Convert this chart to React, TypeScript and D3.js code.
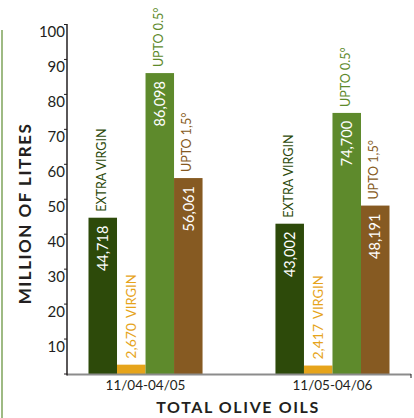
import React from "react";
import * as d3 from "d3";

const periods = ["11/04-04/05", "11/05-04/06"];
const seriesNames = ["EXTRA VIRGIN", "VIRGIN", "UPTO 0.5°", "UPTO 1,5°"];
const extraVirgin = [44.718, 43.002];
const virgin = [2.67, 2.417];
const upto05 = [86.098, 74.7];
const upto15 = [56.061, 48.191];
const yTicks = [0, 10, 20, 30, 40, 50, 60, 70, 80, 90, 100];

const barColors = ["#2d4a0a", "#e6a41b", "#5e8a2c", "#865a22"];
const labelColors = ["#2d4a0a", "#e6a41b", "#5e8a2c", "#865a22"];

const W = 414;
const H = 418;
const FONT = "Lato, 'Open Sans', sans-serif";

const locale = d3.formatLocale({ decimal: ",", thousands: ".", grouping: [3], currency: ["", ""] });
const fmt = locale.format(".3f");

export default function App() {
  const seriesValues = [extraVirgin, virgin, upto05, upto15];
  const x0 = d3
    .scaleBand<string>()
    .domain(periods)
    .range([67, 411])
    .paddingInner(0.39)
    .paddingOuter(0.115)
    .align(0.5);
  const x1 = d3.scaleBand<string>().domain(seriesNames).range([0, x0.bandwidth()]).padding(0);
  const y = d3.scaleLinear().domain([0, 100]).range([374, 24.5]);

  return (
    <svg
      width={W}
      height={H}
      style={{ position: "absolute", left: 0, top: 0, background: "#fff" }}
      fontFamily={FONT}
    >
      {/* left decorative line */}
      <line x1={2} x2={2} y1={30} y2={H} stroke="#7ea35a" strokeWidth={1.5} />

      {/* bars */}
      {periods.map((p, pi) => (
        <g key={p} transform={`translate(${x0(p)},0)`}>
          {seriesNames.map((s, si) => {
            const v = seriesValues[si][pi];
            const bx = x1(s)!;
            const bw = x1.bandwidth();
            const top = y(v);
            const cx = bx + bw / 2;
            return (
              <g key={s}>
                <rect x={bx} y={top} width={bw} height={y(0) - top} fill={barColors[si]} />
                {si !== 1 && (
                  <text
                    transform={`translate(${cx},${top + 8}) rotate(-90)`}
                    textAnchor="end"
                    dy="0.36em"
                    fill="#fff"
                    fontSize={14.5}
                  >
                    {fmt(v)}
                  </text>
                )}
                {si === 1 ? (
                  <text
                    transform={`translate(${cx},${top - 6}) rotate(-90)`}
                    textAnchor="start"
                    dy="0.36em"
                    fill={labelColors[si]}
                    fontSize={13}
                  >
                    <tspan fontSize={14}>{fmt(v)}</tspan>
                    <tspan dx={5}>{s}</tspan>
                  </text>
                ) : (
                  <text
                    transform={`translate(${cx - 1.5},${top - 6}) rotate(-90)`}
                    textAnchor="start"
                    dy="0.36em"
                    fill={labelColors[si]}
                    fontSize={12.5}
                  >
                    {s}
                  </text>
                )}
              </g>
            );
          })}
        </g>
      ))}

      {/* x axis */}
      <line x1={67} x2={411} y1={374.5} y2={374.5} stroke="#8c8c8c" strokeWidth={2} />
      <line x1={411} x2={411} y1={374} y2={378} stroke="#231f20" strokeWidth={1} />
      {periods.map((p) => (
        <text
          key={p}
          x={x0(p)! + x0.bandwidth() / 2}
          y={390}
          textAnchor="middle"
          fontSize={13.5}
          fill="#231f20"
        >
          {p}
        </text>
      ))}
      <text
        x={238}
        y={413}
        textAnchor="middle"
        fontSize={16}
        fontWeight="bold"
        letterSpacing={1.6}
        fill="#231f20"
      >
        TOTAL OLIVE OILS
      </text>

      {/* y axis */}
      <line x1={67} x2={67} y1={24} y2={375.5} stroke="#231f20" strokeWidth={1.5} />
      {yTicks.map((t) => (
        <g key={t}>
          <line x1={64} x2={67} y1={y(t)} y2={y(t)} stroke="#231f20" strokeWidth={1} />
          {t > 0 && (
            <text x={65} y={y(t) + 12.5} textAnchor="end" fontSize={15} fill="#231f20">
              {t}
            </text>
          )}
        </g>
      ))}
      <text
        transform={`translate(25,213.5) rotate(-90)`}
        textAnchor="middle"
        dy="0.36em"
        fontSize={17}
        fontWeight="bold"
        letterSpacing={1.5}
        fill="#231f20"
      >
        MILLION OF LITRES
      </text>
    </svg>
  );
}
